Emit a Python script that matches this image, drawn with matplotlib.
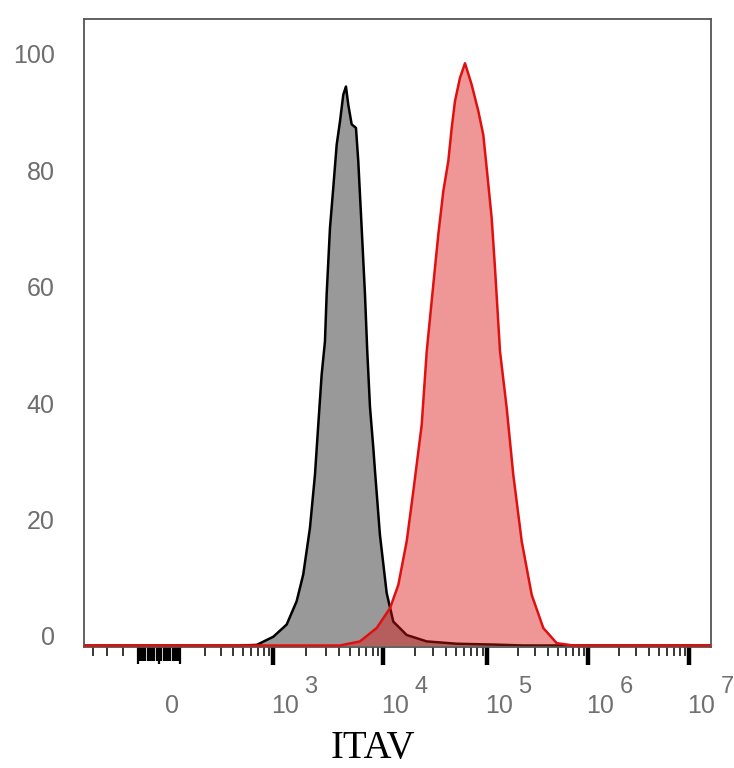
#!/usr/bin/env python3
import numpy as np
import matplotlib
matplotlib.use('Agg')
from matplotlib import pyplot as plt

# ITAV intensity (raw units) vs. % of max
grey_x = [-500, 466, 684, 1000, 1324, 1632, 1874, 2156, 2394, 2566, 2754, 2951,
          3058, 3278, 3512, 3771, 4041, 4330, 4580, 4806, 5161, 5647, 5925, 6362,
          6817, 7152, 7568, 8110, 8403, 9320, 10780, 12480, 16790, 26150, 50790,
          120000, 225400, 1.6e7]
grey_y = [0, 0, 0.1, 1.5, 3.6, 7.6, 12.2, 20.2, 29.3, 37.9, 46.5, 52.2,
          60.3, 71.7, 78.6, 86.0, 90.0, 94.6, 96.0, 92.9, 89.5, 88.9, 83.2, 71.7,
          60.3, 50.5, 41.0, 34.0, 30.0, 19.0, 9.0, 4.1, 1.8, 0.7, 0.3,
          0.15, 0, 0]

red_x = [-500, 4041, 6140, 8710, 11600, 13940, 16790, 19440, 23400, 26150, 30260,
         33800, 37750, 42170, 45480, 48900, 54640, 61040, 70790, 81930, 91510,
         98670, 110500, 119200, 133600, 155600, 180900, 219100, 275200, 358500,
         486600, 710400, 1.6e7]
red_y = [0, 0, 0.7, 3.0, 6.4, 10.4, 17.9, 26.5, 37.9, 50.5, 62.0,
         70.6, 78.0, 83.2, 88.9, 93.5, 97.5, 100, 96.3, 91.8, 87.7,
         82.0, 73.4, 64.8, 50.5, 40.8, 29.3, 17.9, 8.7, 3.0,
         0.4, 0, 0]

y_ticks = [0, 20, 40, 60, 80, 100]
decades = [3, 4, 5, 6, 7]

# biexponential-like display scale: asinh, then a piecewise stretch
ANCHOR_V = np.array([-1000, -500, -400, -300, -200, -100, 0, 100,
                     1e3, 1e4, 1e5, 1e6, 1e7, 1e8])
ANCHOR_D = np.array([55, 84, 93, 107, 123, 138, 159, 180,
                     273.3, 383.3, 487.3, 588.3, 689.3, 790.3])
ANCHOR_U = np.arcsinh(ANCHOR_V / 100) / np.log(10)


def fwd(v):
	u = np.arcsinh(np.asarray(v, dtype=float) / 100) / np.log(10)
	return np.interp(u, ANCHOR_U, ANCHOR_D)


def inv(d):
	u = np.interp(np.asarray(d, dtype=float), ANCHOR_D, ANCHOR_U)
	return 100 * np.sinh(u * np.log(10))


def main():
	plt.rcParams['font.family'] = ['Liberation Sans', 'DejaVu Sans']

	fig = plt.figure(figsize=(7.34, 7.68), dpi=100)
	ax = fig.add_axes([84 / 734, 1 - 647 / 768, (711 - 84) / 734, (647 - 19) / 768])
	ax.set_xscale('function', functions=(fwd, inv))

	ax.fill_between(grey_x, grey_y, 0, color='#999999', lw=0, zorder=1)
	ax.plot(grey_x, grey_y, color='black', lw=1.8, zorder=2)
	ax.fill_between(red_x, red_y, 0, color='#dc1414', alpha=0.44, lw=0, zorder=3)
	ax.plot(red_x, red_y, color='#e01010', lw=1.8, zorder=4)

	ax.set_xlim(-500, 1.64e7)
	ax.set_ylim(-0.26, 107.6)

	# y axis: labels only, baseline sitting on the value
	ax.set_yticks(y_ticks)
	ax.set_yticklabels([str(t) for t in y_ticks])
	ax.tick_params(axis='y', length=0, pad=21, labelsize=18, labelcolor='#6e6e6e')
	for lbl in ax.get_yticklabels():
		lbl.set_va('baseline')

	# x axis ticks
	zero_ticks = list(range(-100, 101, 10))
	dec_ticks = [10.0 ** k for k in decades]
	major = zero_ticks + dec_ticks
	minor = [-400, -300, -200] + list(range(200, 1000, 100))
	for k in decades[:-1]:
		minor += [m * 10.0 ** k for m in range(2, 10)]
	ax.set_xticks(major)
	ax.set_xticks(minor, minor=True)
	ax.tick_params(axis='x', which='both', direction='out', color='black',
				   labelbottom=False)
	ax.tick_params(axis='x', which='minor', length=6.5, width=1.1)
	ticks = ax.xaxis.get_major_ticks()
	for t, v in zip(ticks, major):
		if v in dec_ticks:
			t.tick1line.set_markersize(13)
			t.tick1line.set_markeredgewidth(3.2)
		else:
			t.tick1line.set_markersize(12 if v in (-100, 0, 100) else 10)
			t.tick1line.set_markeredgewidth(1.6)

	lab_col = '#707070'
	ax.annotate('0', xy=(0, 0), xycoords=('data', 'axes fraction'),
				xytext=(6, -66), textcoords='offset pixels', ha='left',
				va='baseline', fontsize=18, color=lab_col)
	for k in decades:
		ax.annotate('10', xy=(10.0 ** k, 0), xycoords=('data', 'axes fraction'),
					xytext=(-2, -66), textcoords='offset pixels', ha='left',
					va='baseline', fontsize=18, color=lab_col, annotation_clip=False)
		ax.annotate(str(k), xy=(10.0 ** k, 0), xycoords=('data', 'axes fraction'),
					xytext=(31, -46), textcoords='offset pixels', ha='left',
					va='baseline', fontsize=17, color=lab_col, annotation_clip=False)

	for s in ax.spines.values():
		s.set_color('#555555')
		s.set_linewidth(1.3)

	fig.text(372.5 / 734, 1 - 758 / 768, 'ITAV', ha='center', va='baseline',
			 fontsize=28, family='Liberation Serif', color='black')

	plt.savefig('out.png', dpi=100)
	plt.close()


if __name__ == '__main__':
	main()
